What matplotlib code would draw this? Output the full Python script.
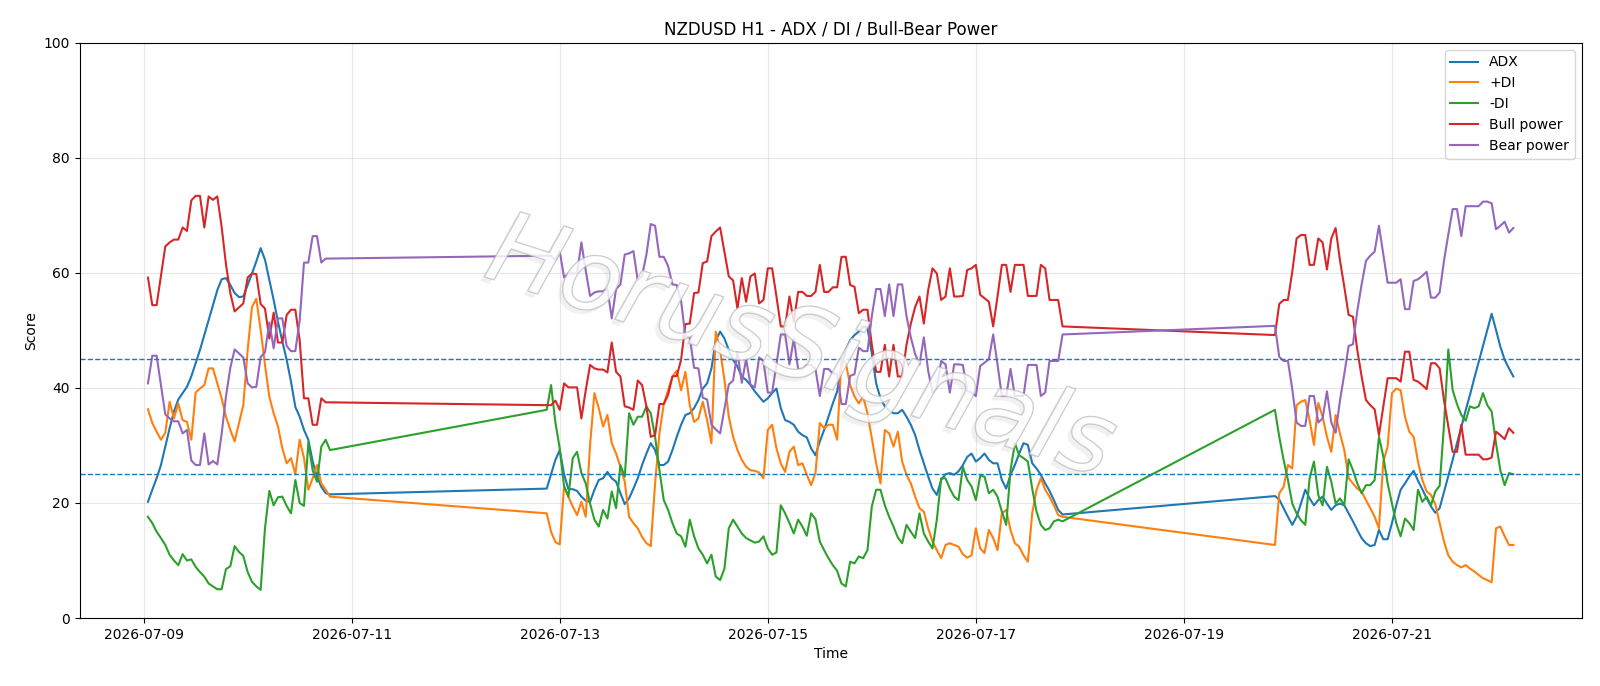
import numpy as np
import pandas as pd
import matplotlib
matplotlib.use("Agg")
import matplotlib.pyplot as plt
import matplotlib.dates as mdates
import matplotlib.patheffects as pe

# H1 bars: three trading blocks separated by weekends
seg_starts = ["2026-07-09 01:00", "2026-07-12 21:00", "2026-07-19 21:00"]
seg_lengths = [43, 120, 56]

adx = [
    # 07-09 01:00 -> 07-10 19:00
    20.2, 22.3, 24.3, 26.6, 29.8, 33.0, 35.9, 38.0, 39.1, 40.2,
    42.0, 44.3, 46.6, 49.2, 51.8, 54.4, 57.0, 58.9, 59.1, 57.9,
    56.5, 55.8, 55.9, 57.9, 59.9, 62.0, 64.3, 62.3, 58.8, 55.3,
    51.5, 48.1, 44.9, 41.1, 36.7, 35.0, 32.7, 31.0, 27.2, 24.6,
    22.8, 21.7, 21.5,
    # 07-12 21:00 -> 07-17 20:00
    22.5, 25.0, 27.5, 29.2, 25.0, 22.4, 22.4, 22.1, 21.1, 20.4,
    20.2, 22.3, 24.0, 24.3, 25.4, 24.3, 23.7, 21.7, 19.8, 20.8,
    22.5, 24.3, 26.6, 28.6, 30.4, 29.2, 26.6, 26.6, 27.2, 29.2,
    31.5, 33.6, 35.3, 35.6, 36.5, 37.9, 39.9, 40.8, 43.4, 48.3,
    49.8, 48.6, 46.6, 44.9, 43.7, 42.0, 41.4, 40.5, 39.4, 38.5,
    37.6, 38.2, 39.1, 39.9, 36.5, 34.4, 34.1, 33.6, 32.4, 31.8,
    31.4, 29.5, 28.3, 30.7, 32.7, 35.0, 37.3, 39.4, 43.7, 46.6,
    48.3, 49.2, 49.8, 50.7, 50.4, 46.0, 40.8, 38.2, 36.8, 36.1,
    35.6, 35.6, 36.2, 35.0, 33.6, 31.8, 29.2, 26.9, 24.6, 22.5,
    21.4, 24.0, 25.0, 25.2, 24.9, 25.5, 26.6, 28.0, 28.6, 27.2,
    27.8, 28.6, 27.5, 26.9, 26.9, 24.0, 22.5, 24.9, 26.6, 28.6,
    30.4, 30.1, 26.9, 26.0, 24.9, 23.4, 22.1, 20.5, 18.8, 18.0,
    # 07-19 21:00 -> 07-22 04:00
    21.2, 20.6, 19.1, 17.6, 16.2, 17.6, 19.9, 22.3, 20.8, 19.6,
    20.5, 21.1, 19.9, 18.8, 19.6, 19.9, 19.6, 18.2, 16.8, 15.3,
    13.9, 13.0, 12.5, 12.7, 15.3, 13.7, 13.7, 16.5, 19.6, 22.3,
    23.4, 24.6, 25.6, 23.9, 22.4, 20.8, 19.4, 18.3, 19.1, 21.9,
    24.7, 27.5, 30.4, 33.2, 36.1, 38.8, 41.7, 44.5, 47.3, 50.1,
    52.9, 50.1, 47.2, 44.9, 43.4, 42.0,
]

plus_di = [
    36.3, 33.9, 32.4, 31.0, 32.2, 37.6, 34.7, 37.3, 34.4, 34.1,
    31.0, 39.2, 39.9, 40.5, 43.4, 43.4, 40.8, 38.2, 35.0, 32.7,
    30.7, 33.9, 37.0, 46.6, 54.1, 55.5, 50.1, 44.0, 38.5, 35.6,
    33.3, 29.5, 26.9, 27.8, 25.0, 31.0, 27.8, 22.3, 24.3, 26.6,
    23.4, 22.3, 21.1,
    18.2, 15.0, 13.2, 12.8, 22.9, 21.1, 19.4, 17.9, 20.2, 17.6,
    30.1, 39.1, 36.5, 33.3, 35.3, 30.4, 28.6, 26.3, 23.7, 17.6,
    16.5, 15.6, 14.1, 13.0, 12.5, 23.4, 32.1, 37.2, 39.6, 42.0,
    43.0, 39.6, 42.8, 37.0, 34.1, 34.7, 37.6, 34.4, 30.4, 49.8,
    46.6, 41.4, 35.0, 31.5, 29.2, 27.5, 26.3, 25.7, 25.6, 25.3,
    24.3, 32.7, 33.6, 29.5, 26.9, 25.4, 28.9, 29.8, 26.6, 26.9,
    24.9, 23.1, 25.2, 33.9, 33.0, 33.6, 33.6, 31.0, 45.2, 44.3,
    40.5, 38.5, 37.3, 38.5, 35.6, 31.3, 26.9, 23.4, 32.7, 32.1,
    29.8, 32.4, 27.2, 24.9, 23.4, 21.1, 19.1, 18.5, 15.6, 13.3,
    11.8, 10.4, 12.7, 13.0, 12.7, 12.4, 11.1, 10.5, 10.9, 15.6,
    12.1, 11.3, 15.3, 13.9, 11.8, 18.2, 18.8, 15.3, 13.0, 12.4,
    10.9, 9.8, 18.2, 22.3, 24.3, 22.3, 21.1, 19.6, 17.9, 17.6,
    12.7, 21.7, 22.8, 26.6, 26.0, 37.0, 37.6, 37.9, 34.4, 30.1,
    37.4, 35.0, 31.5, 28.9, 35.3, 32.1, 29.2, 24.3, 23.4, 22.5,
    22.0, 20.5, 19.1, 17.6, 15.6, 27.2, 29.8, 39.1, 39.9, 39.6,
    35.0, 32.4, 31.5, 27.2, 24.0, 22.0, 21.4, 19.8, 16.5, 13.3,
    10.9, 9.8, 9.2, 8.8, 9.2, 8.6, 8.1, 7.5, 6.9, 6.6,
    6.2, 15.6, 15.9, 14.2, 12.7, 12.7,
]

minus_di = [
    17.6, 16.5, 15.0, 13.9, 12.7, 11.0, 10.0, 9.2, 11.1, 10.0,
    10.2, 8.9, 8.0, 7.2, 6.0, 5.5, 5.0, 5.0, 8.5, 9.0,
    12.5, 11.5, 10.8, 8.0, 6.3, 5.5, 4.9, 15.6, 22.1, 19.6,
    21.0, 21.1, 19.5, 18.2, 24.0, 20.0, 19.5, 30.5, 25.7, 23.7,
    29.8, 31.0, 29.2,
    36.2, 40.5, 34.0, 29.5, 22.9, 21.1, 27.8, 28.9, 25.2, 23.4,
    19.9, 17.1, 15.9, 18.8, 17.3, 22.0, 19.1, 26.6, 24.6, 35.6,
    33.6, 35.0, 35.0, 36.8, 35.6, 31.5, 25.7, 20.5, 18.8, 16.5,
    14.7, 14.2, 12.4, 17.1, 14.2, 12.1, 11.0, 9.5, 11.0, 7.2,
    6.6, 8.6, 15.6, 17.1, 15.9, 14.7, 13.9, 13.5, 13.1, 13.3,
    14.2, 12.1, 11.0, 11.4, 19.6, 18.2, 16.5, 14.7, 17.1, 15.9,
    14.3, 18.2, 17.2, 13.3, 11.8, 10.4, 9.2, 8.2, 6.0, 5.5,
    9.8, 9.5, 10.7, 10.4, 11.8, 19.4, 22.3, 22.3, 19.6, 17.6,
    15.9, 14.0, 13.0, 16.2, 15.0, 13.9, 18.2, 14.7, 13.3, 12.1,
    17.1, 24.3, 24.3, 22.5, 21.1, 20.5, 26.3, 24.0, 22.9, 20.5,
    24.7, 24.6, 21.7, 22.3, 21.1, 18.5, 16.2, 25.7, 30.4, 28.3,
    27.8, 27.2, 22.5, 18.5, 16.2, 15.3, 15.6, 16.8, 17.1, 16.8,
    36.2, 31.5, 27.5, 24.0, 19.9, 18.2, 17.0, 16.2, 24.3, 27.2,
    21.4, 19.6, 26.3, 23.7, 19.9, 20.8, 19.6, 27.6, 25.7, 23.4,
    21.7, 23.1, 23.1, 24.0, 31.5, 28.1, 23.4, 19.9, 16.5, 14.2,
    17.3, 16.5, 15.3, 22.3, 20.2, 21.1, 19.6, 22.0, 23.0, 33.5,
    46.7, 39.6, 37.2, 35.3, 34.3, 36.8, 36.5, 36.8, 39.1, 37.0,
    35.9, 30.4, 25.7, 23.1, 25.2, 25.0,
]

bull_power = [
    59.2, 54.4, 54.4, 59.5, 64.6, 65.3, 65.8, 65.8, 67.9, 67.3,
    72.6, 73.4, 73.4, 67.9, 73.3, 72.7, 73.3, 68.0, 61.5, 56.5,
    53.3, 54.0, 54.7, 59.2, 59.9, 59.8, 54.6, 53.8, 48.6, 53.1,
    47.9, 47.9, 52.7, 53.6, 53.6, 48.3, 38.2, 38.2, 33.6, 33.6,
    38.2, 37.5, 37.5,
    37.0, 37.0, 37.8, 36.2, 40.8, 40.1, 40.1, 40.1, 34.7, 39.6,
    44.0, 43.4, 43.2, 43.2, 42.7, 47.9, 42.8, 42.0, 36.8, 36.6,
    36.2, 41.3, 40.5, 36.8, 31.5, 31.8, 37.2, 37.2, 38.8, 42.0,
    42.1, 44.9, 51.1, 51.2, 56.5, 56.6, 61.7, 62.0, 66.4, 67.2,
    67.9, 63.7, 59.4, 58.7, 53.8, 59.1, 55.0, 59.4, 59.9, 54.7,
    55.3, 60.8, 60.8, 55.9, 50.7, 50.7, 55.9, 51.5, 56.7, 56.7,
    56.0, 56.0, 56.7, 61.4, 56.7, 56.7, 57.5, 57.5, 62.8, 62.8,
    57.9, 57.6, 53.0, 53.6, 53.6, 47.5, 42.8, 42.8, 47.5, 42.0,
    47.5, 42.0, 42.0, 47.5, 51.2, 54.1, 55.9, 51.2, 57.0, 60.8,
    59.9, 55.3, 55.9, 60.8, 55.9, 55.9, 56.0, 60.5, 60.8, 61.4,
    56.2, 55.6, 55.0, 50.7, 55.9, 61.4, 61.4, 56.7, 61.4, 61.4,
    61.4, 56.0, 56.0, 56.0, 61.4, 60.8, 55.3, 55.3, 55.3, 50.7,
    49.2, 54.6, 55.3, 55.3, 60.2, 66.0, 66.6, 66.6, 61.4, 61.4,
    66.0, 65.3, 60.6, 66.0, 67.8, 62.2, 57.6, 52.7, 52.4, 46.6,
    42.0, 37.9, 37.0, 36.3, 31.8, 36.8, 41.7, 41.7, 41.7, 41.1,
    46.3, 46.3, 41.4, 41.1, 40.5, 39.8, 44.3, 44.3, 43.4, 37.9,
    33.3, 28.9, 28.9, 33.6, 28.4, 28.4, 28.4, 28.4, 27.6, 27.6,
    27.9, 32.4, 31.8, 31.1, 33.0, 32.2,
]

bear_power = [
    40.8, 45.6, 45.6, 40.5, 35.4, 34.7, 34.2, 34.2, 32.1, 32.7,
    27.4, 26.6, 26.6, 32.1, 26.7, 27.3, 26.7, 32.0, 38.5, 43.5,
    46.7, 46.0, 45.3, 40.8, 40.1, 40.2, 45.4, 46.2, 51.4, 46.9,
    52.1, 52.1, 47.3, 46.4, 46.4, 51.7, 61.8, 61.8, 66.4, 66.4,
    61.8, 62.5, 62.5,
    63.0, 63.0, 62.2, 63.8, 59.2, 59.9, 59.9, 59.9, 65.3, 60.4,
    56.0, 56.6, 56.8, 56.8, 57.3, 52.1, 57.2, 58.0, 63.2, 63.4,
    63.8, 58.7, 59.5, 63.2, 68.5, 68.2, 62.8, 62.8, 61.2, 58.0,
    57.9, 55.1, 48.9, 48.8, 43.5, 43.4, 38.3, 38.0, 33.6, 32.8,
    32.1, 36.3, 40.6, 41.3, 46.2, 40.9, 45.0, 40.6, 40.1, 45.3,
    44.7, 39.2, 39.2, 44.1, 49.3, 49.3, 44.1, 48.5, 43.3, 43.3,
    44.0, 44.0, 43.3, 38.6, 43.3, 43.3, 42.5, 42.5, 37.2, 37.2,
    42.1, 42.4, 47.0, 46.4, 46.4, 52.5, 57.2, 57.2, 52.5, 58.0,
    52.5, 58.0, 58.0, 52.5, 48.8, 45.9, 44.1, 48.8, 43.0, 39.2,
    40.1, 44.7, 44.1, 39.2, 44.1, 44.1, 44.0, 39.5, 39.2, 38.6,
    43.8, 44.4, 45.0, 49.3, 44.1, 38.6, 38.6, 43.3, 38.6, 38.6,
    38.6, 44.0, 44.0, 44.0, 38.6, 39.2, 44.7, 44.7, 44.7, 49.3,
    50.8, 45.4, 44.7, 44.7, 39.8, 34.0, 33.4, 33.4, 38.6, 38.6,
    34.0, 34.7, 39.4, 34.0, 32.2, 37.8, 42.4, 47.3, 47.6, 53.4,
    58.0, 62.1, 63.0, 63.7, 68.2, 63.2, 58.3, 58.3, 58.3, 58.9,
    53.7, 53.7, 58.6, 58.9, 59.5, 60.2, 55.7, 55.7, 56.6, 62.1,
    66.7, 71.1, 71.1, 66.4, 71.6, 71.6, 71.6, 71.6, 72.4, 72.4,
    72.1, 67.6, 68.2, 68.9, 67.0, 67.8,
]

# thresholds drawn as dashed lines
levels = [25, 45]

times = pd.DatetimeIndex(np.concatenate([
    pd.date_range(s, periods=n, freq="h").values
    for s, n in zip(seg_starts, seg_lengths)
]))

fig, ax = plt.subplots(figsize=(16, 6.86), dpi=100)
fig.subplots_adjust(left=0.0498, right=0.9885, top=0.9375, bottom=0.0991)

ax.plot(times, adx, label="ADX", color="tab:blue", lw=1.5)
ax.plot(times, plus_di, label="+DI", color="tab:orange", lw=1.5)
ax.plot(times, minus_di, label="-DI", color="tab:green", lw=1.5)
ax.plot(times, bull_power, label="Bull power", color="tab:red", lw=1.5)
ax.plot(times, bear_power, label="Bear power", color="tab:purple", lw=1.5)

for lvl in levels:
    ax.axhline(lvl, color="tab:blue", linestyle="--", lw=1)

# watermark: hollow oblique letters with a faint shadow
ax.text(0.48, 0.465, "HorusSignals", transform=ax.transAxes,
        fontsize=72, family="DejaVu Sans", style="italic",
        color="white", alpha=0.3, rotation=-18,
        ha="center", va="center", zorder=3,
        path_effects=[pe.SimplePatchShadow(offset=(-3, -3),
                                           shadow_rgbFace="#909090", alpha=0.12),
                      pe.Stroke(linewidth=1.0, foreground="#b4b4b4", alpha=0.75),
                      pe.Normal()])

ax.set_ylim(0, 100)
ax.xaxis.set_major_locator(mdates.DayLocator(interval=2))
ax.xaxis.set_major_formatter(mdates.DateFormatter("%Y-%m-%d"))
ax.grid(True, alpha=0.3)
ax.set_title("NZDUSD H1 - ADX / DI / Bull-Bear Power")
ax.set_xlabel("Time")
ax.set_ylabel("Score")
ax.legend(loc="upper right")

fig.savefig("out.png", dpi=100)
